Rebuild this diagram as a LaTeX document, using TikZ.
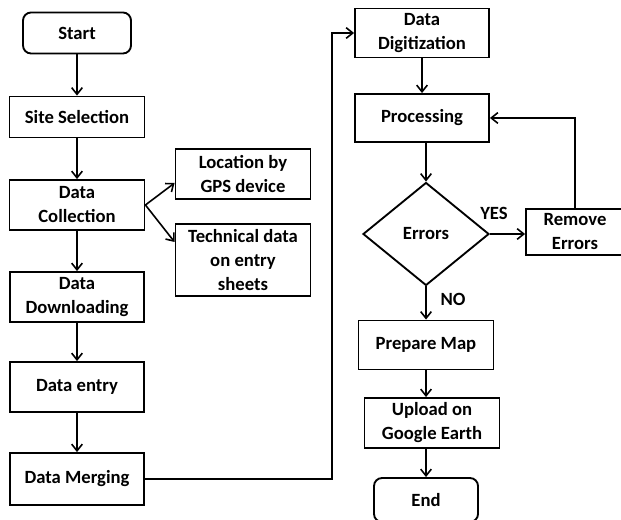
\documentclass[tikz,border=0pt]{standalone}
\usepackage{fontspec}
\setmainfont{Carlito}
\usepackage{tikz}
\usetikzlibrary{calc,shapes.geometric,arrows.meta}

\tikzset{
  box/.style={draw, line width=1.4pt, align=center, inner sep=1pt,
    font=\bfseries\fontsize{14}{18}\selectfont},
  term/.style={box, rounded corners=6pt},
  decision/.style={box, diamond, inner sep=0pt},
  arr/.style={line width=1.2pt, -{Straight Barb[length=5pt,width=8pt]}},
  lbl/.style={font=\bfseries\fontsize{14}{18}\selectfont}
}

\begin{document}
\begin{tikzpicture}[x=0.75pt,y=-0.75pt]
        \useasboundingbox (0,0) rectangle (621,520);
        \node [term, minimum width=81pt, minimum height=30.75pt] (start) at (77,33) {Start};
        \node [box, minimum width=101.25pt, minimum height=30.75pt] (site) at (77,117) {Site Selection};
        \node [box, minimum width=101.25pt, minimum height=37.5pt] (collect) at (77,205) {Data\\Collection};
        \node [box, minimum width=101.25pt, minimum height=37.5pt] (gps) at (243,174) {Location by\\GPS device};
        \node [box, minimum width=101.25pt, minimum height=54pt] (tech) at (243,260) {Technical data\\on entry\\sheets};
        \node [box, minimum width=100.5pt, minimum height=37.5pt] (download) at (77,297) {Data\\Downloading};
        \node [box, minimum width=100pt, minimum height=37.5pt] (entry) at (77,387) {Data entry};
        \node [box, minimum width=100pt, minimum height=39pt] (merge) at (77,479) {Data Merging};

        \node [box, minimum width=100.5pt, minimum height=36.75pt] (digit) at (422,33) {Data\\Digitization};
        \node [box, minimum width=100.5pt, minimum height=36pt] (proc) at (422,118) {Processing};
        \node [decision, minimum width=94.5pt, minimum height=77.25pt] (errors) at (426,234) {Errors};
        \node [box, minimum width=73.5pt, minimum height=34pt] (remove) at (575,232) {Remove\\Errors};
        \node [box, minimum width=101.25pt, minimum height=36.75pt] (prep) at (426,345) {Prepare Map};
        \node [box, minimum width=101.25pt, minimum height=37.5pt] (upload) at (432,423) {Upload on\\Google Earth};
        \node [term, minimum width=78pt, minimum height=33pt] (finish) at (426,500) {End};

        \node [lbl] (yes) at (494,213) {YES};
        \node [lbl] (no) at (453,299) {NO};

        \draw [arr] (start) -- (site);
        \draw [arr] (site) -- (collect);
        \draw [arr] (collect.east) -- ([yshift=-6.75pt]gps.west);
        \draw [arr] (collect.east) -- ([yshift=13.5pt]tech.west);
        \draw [arr] (collect) -- (download);
        \draw [arr] (download) -- (entry);
        \draw [arr] (entry) -- (merge);
        \draw [arr] (merge.east) -| ([xshift=-16.5pt]digit.west) -- (digit.west);
        \draw [arr] (digit) -- (proc);
        \draw [arr] (proc.south -| errors.north) -- (errors.north);
        \draw [arr] (errors.east) -- (errors.east -| remove.west);
        \draw [arr] (remove.north) |- (proc.east);
        \draw [arr] (errors.south) -- (prep.north);
        \draw [arr] (prep.south) -- (prep.south |- upload.north);
        \draw [arr] (upload.south -| finish.north) -- (finish.north);
    \end{tikzpicture}
\end{document}
